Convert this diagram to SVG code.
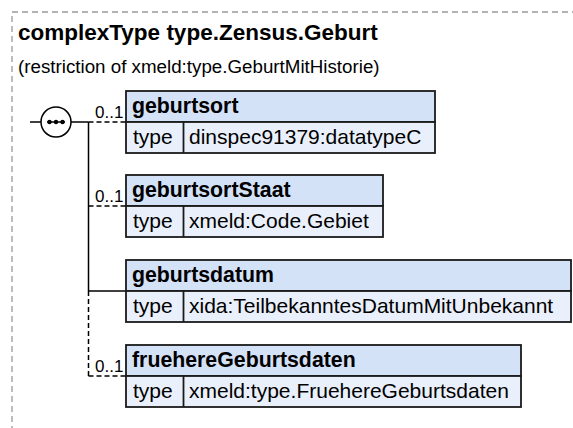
<svg xmlns="http://www.w3.org/2000/svg" width="573" height="428" viewBox="0 0 573 428">
<style>
.frame{fill:none;stroke:#999;stroke-width:1.3;stroke-dasharray:6,4}
.title{font-family:"Liberation Sans",Arial,sans-serif;font-weight:bold;font-size:22.5px;fill:#000}
.sub{font-family:"Liberation Sans",Arial,sans-serif;font-size:18.75px;fill:#000}
.hd{fill:#d4e2f8;stroke:#1a1a1a;stroke-width:1.8}
.rw{fill:#eaf0fb;stroke:#1a1a1a;stroke-width:1.8}
.ht{font-family:"Liberation Sans",Arial,sans-serif;font-weight:bold;font-size:21.3px;fill:#000}
.rt{font-family:"Liberation Sans",Arial,sans-serif;font-size:21px;fill:#000}
.ln{stroke:#000;stroke-width:1.5;fill:none}
.bl{stroke:#1a1a1a;stroke-width:1.8;fill:none}
.dl{stroke:#000;stroke-width:1.5;fill:none;stroke-dasharray:5,3}
.occ{font-family:"Liberation Sans",Arial,sans-serif;font-size:17px;fill:#000}
</style>
<rect class="frame" x="12" y="12" width="620" height="460"/>
<text class="title" x="18" y="40">complexType type.Zensus.Geburt</text>
<text class="sub" x="18" y="73">(restriction of xmeld:type.GeburtMitHistorie)</text>

<g id="connectors">
<line class="ln" x1="30" y1="122" x2="41" y2="122"/>
<line class="ln" x1="71" y1="122" x2="88.5" y2="122"/>
<line class="ln" x1="88.5" y1="122" x2="88.5" y2="291"/>
<line class="dl" x1="88.5" y1="291" x2="88.5" y2="376"/>
<line class="dl" x1="88.5" y1="122" x2="126" y2="122"/>
<line class="dl" x1="88.5" y1="206" x2="126" y2="206"/>
<line class="ln" x1="88.5" y1="291" x2="126" y2="291"/>
<line class="dl" x1="88.5" y1="376" x2="126" y2="376"/>
<text class="occ" x="95" y="118">0..1</text>
<text class="occ" x="95" y="202">0..1</text>
<text class="occ" x="95" y="372">0..1</text>
</g>

<g id="sequence">
<circle cx="56" cy="122" r="15" fill="#fff" stroke="#000" stroke-width="1.5"/>
<line class="ln" x1="47" y1="122" x2="65" y2="122"/>
<circle cx="49.5" cy="122" r="2.2" fill="#000"/>
<circle cx="56" cy="122" r="2.2" fill="#000"/>
<circle cx="62.5" cy="122" r="2.2" fill="#000"/>
</g>

<g id="geburtsort">
<rect class="hd" x="126" y="91" width="309" height="31"/>
<rect class="rw" x="126" y="122" width="309" height="31"/>
<line class="bl" x1="183.5" y1="122" x2="183.5" y2="153"/>
<text class="ht" x="132" y="113">geburtsort</text>
<text class="rt" x="133" y="144">type</text>
<text class="rt" x="189" y="144">dinspec91379:datatypeC</text>
</g>

<g id="geburtsortStaat">
<rect class="hd" x="126" y="175" width="257" height="31"/>
<rect class="rw" x="126" y="206" width="257" height="31"/>
<line class="bl" x1="183.5" y1="206" x2="183.5" y2="237"/>
<text class="ht" x="132" y="197">geburtsortStaat</text>
<text class="rt" x="133" y="228">type</text>
<text class="rt" x="189" y="228">xmeld:Code.Gebiet</text>
</g>

<g id="geburtsdatum">
<rect class="hd" x="126" y="260" width="445" height="31"/>
<rect class="rw" x="126" y="291" width="445" height="31"/>
<line class="bl" x1="183.5" y1="291" x2="183.5" y2="322"/>
<text class="ht" x="132" y="282">geburtsdatum</text>
<text class="rt" x="133" y="313">type</text>
<text class="rt" x="189" y="313">xida:TeilbekanntesDatumMitUnbekannt</text>
</g>

<g id="fruehereGeburtsdaten">
<rect class="hd" x="126" y="345" width="395" height="31"/>
<rect class="rw" x="126" y="376" width="395" height="31"/>
<line class="bl" x1="183.5" y1="376" x2="183.5" y2="407"/>
<text class="ht" x="132" y="367">fruehereGeburtsdaten</text>
<text class="rt" x="133" y="398">type</text>
<text class="rt" x="189" y="398">xmeld:type.FruehereGeburtsdaten</text>
</g>
</svg>
